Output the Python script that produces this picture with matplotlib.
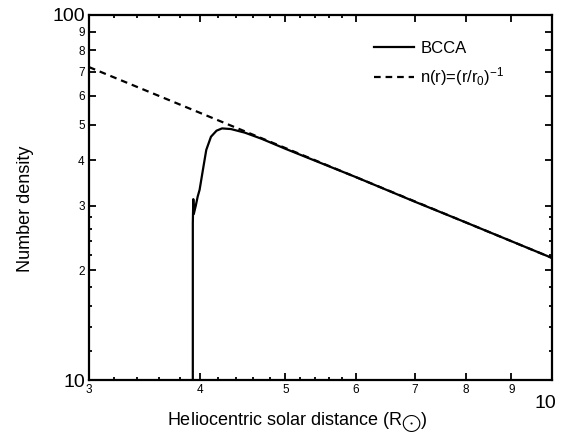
import numpy as np
import matplotlib
matplotlib.use("Agg")
import matplotlib.pyplot as plt
from matplotlib.ticker import FixedLocator, FixedFormatter, NullFormatter

plt.rcParams['font.family'] = ['Liberation Sans', 'DejaVu Sans']
plt.rcParams['mathtext.fontset'] = 'custom'
plt.rcParams['mathtext.rm'] = 'Liberation Sans'
plt.rcParams['mathtext.it'] = 'Liberation Sans'

# BCCA number density vs heliocentric distance (solar radii)
r_bcca = [3.93, 3.93, 3.935, 3.94, 3.96, 3.98, 4.00, 4.04, 4.07, 4.12,
          4.18, 4.24, 4.34, 4.50, 4.70, 5.0, 6.0, 7.0, 8.0, 9.0, 10.0]
n_bcca = [10.0, 26.9, 31.3, 28.5, 30.0, 31.8, 33.2, 38.4, 42.7, 46.4,
          48.2, 48.9, 48.7, 47.6, 45.8, 43.0, 36.0, 30.8, 27.0, 24.0, 21.6]

# reference power law n(r) = (r/r0)^-1
r_ref = [3.0, 10.0]
n_ref = [72.0, 21.6]

x_major = [3, 4, 5, 6, 7, 8, 9, 10]
x_labels = ['3', '4', '5', '6', '7', '8', '9', '']
x_minor = [3.2, 3.4, 3.6, 3.8, 4.2, 4.4, 4.6, 4.8, 5.2, 5.4, 5.6, 5.8]
y_major = [10, 20, 30, 40, 50, 60, 70, 80, 90, 100]
y_labels = ['10', '2', '3', '4', '5', '6', '7', '8', '9', '100']
y_minor = [12, 14, 16, 18, 22, 24, 26, 28]

fig = plt.figure(figsize=(5.61, 4.36), dpi=100)
ax = fig.add_axes([0.1586, 0.1284, 0.8253, 0.8372])

ax.plot(r_bcca, n_bcca, color='black', lw=1.6, label='BCCA')
ax.plot(r_ref, n_ref, color='black', lw=1.6, ls=(0, (3, 2.2)),
        label=r'n(r)=(r/r$_0$)$^{-1}$')

ax.set_xscale('log')
ax.set_yscale('log')
ax.set_xlim(3, 10)
ax.set_ylim(10, 100)

ax.xaxis.set_major_locator(FixedLocator(x_major))
ax.xaxis.set_major_formatter(FixedFormatter(x_labels))
ax.xaxis.set_minor_locator(FixedLocator(x_minor))
ax.xaxis.set_minor_formatter(NullFormatter())
ax.yaxis.set_major_locator(FixedLocator(y_major))
ax.yaxis.set_major_formatter(FixedFormatter(y_labels))
ax.yaxis.set_minor_locator(FixedLocator(y_minor))
ax.yaxis.set_minor_formatter(NullFormatter())

ax.tick_params(which='both', direction='in', top=True, right=True,
               width=1.3, labelsize=8.5)
ax.tick_params(which='major', length=5, pad=3)
ax.tick_params(which='minor', length=2.5)
for sp in ax.spines.values():
    sp.set_linewidth(1.6)

# the end labels are drawn larger
for lab in ax.get_yticklabels():
    if lab.get_text() in ('10', '100'):
        lab.set_fontsize(14)
ax.text(0.985, -0.065, '10', transform=ax.transAxes, ha='center',
        va='center', fontsize=14)

ax.set_xlabel(r'Heliocentric solar distance (R$_{\bigodot}$)', fontsize=13)
ax.set_ylabel('Number density', fontsize=13)
ax.xaxis.set_label_coords(0.45, -0.083)
ax.yaxis.set_label_coords(-0.118, 0.47)

ax.legend(loc='upper right', frameon=False, fontsize=12, handlelength=2.4,
          handletextpad=0.4, labelspacing=0.55, bbox_to_anchor=(0.93, 0.97))

fig.savefig('out.png', dpi=100)
